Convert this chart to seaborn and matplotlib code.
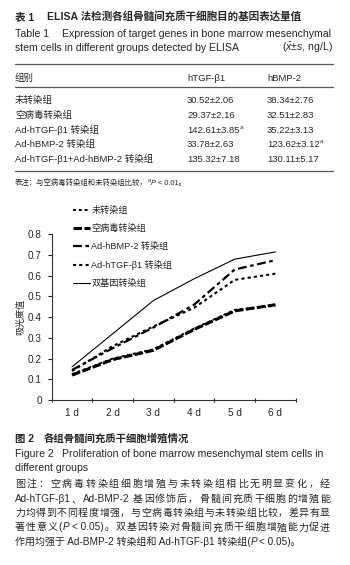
import matplotlib
matplotlib.use("Agg")
import matplotlib.pyplot as plt
from matplotlib.lines import Line2D
import numpy as np
import pandas as pd
import seaborn as sns

# table 1 data
table_groups = ["未转染组", "空病毒转染组", "Ad-hTGF-β1 转染组", "Ad-hBMP-2 转染组",
                "Ad-hTGF-β1+Ad-hBMP-2 转染组"]
tgf_vals = ["30.52±2.06", "29.37±2.16", "142.61±3.85", "33.78±2.63", "135.32±7.18"]
tgf_sig = [False, False, True, False, False]
bmp_vals = ["38.34±2.76", "32.51±2.83", "35.22±3.13", "123.62±3.12", "130.11±5.17"]
bmp_sig = [False, False, False, True, False]

# figure 2 data (absorbance)
days = ["1 d", "2 d", "3 d", "4 d", "5 d", "6 d"]
groups = ["未转染组", "空病毒转染组", "Ad-hBMP-2 转染组", "Ad-hTGF-β1 转染组", "双基因转染组"]
od_untransfected = [0.125, 0.20, 0.245, 0.345, 0.435, 0.455]
od_empty_virus = [0.12, 0.195, 0.24, 0.34, 0.43, 0.46]
od_bmp2 = [0.145, 0.25, 0.35, 0.46, 0.63, 0.675]
od_tgf = [0.14, 0.26, 0.355, 0.445, 0.58, 0.61]
od_dual = [0.16, 0.32, 0.48, 0.585, 0.68, 0.715]

sns.set_style("ticks")
plt.rcParams["font.family"] = ["Liberation Sans", "Noto Sans CJK SC"]
plt.rcParams["mathtext.fontset"] = "custom"
plt.rcParams["mathtext.rm"] = "Liberation Sans"
plt.rcParams["mathtext.it"] = "Liberation Sans:italic"

W, H = 350, 565
fig = plt.figure(figsize=(W / 100, H / 100), dpi=100)
renderer = fig.canvas.get_renderer()


def put(x, y, s, size, ha="left", **kw):
    # x, y in pixels from top-left, y = vertical centre of the line
    base = y + 0.37 * size * 100 / 72
    return fig.text(x / W, 1 - base / H, s, fontsize=size, ha=ha, va="baseline", **kw)


def width(t):
    return t.get_window_extent(renderer).width


def run(x, y, parts, size):
    for s, kw in parts:
        kw = dict(kw)
        sz = kw.pop("size", size)
        dy = kw.pop("dy", 0)
        gap = kw.pop("gap", 0)
        x += gap
        t = put(x, y + dy, s, sz, **kw)
        x += width(t)
    return x


def tokens(parts, size):
    out = []
    sp = 0.278 * size * 100 / 72
    for s, kw in parts:
        cur = ""
        for ch in s:
            if ord(ch) < 0x2000:
                cur += ch
            else:
                if cur:
                    out.append((cur, kw))
                    cur = ""
                out.append((ch, kw))
        if cur:
            out.append((cur, kw))
    res = []
    for s, kw in out:
        lead = len(s) - len(s.lstrip(" "))
        trail = len(s) - len(s.rstrip(" "))
        if s.strip():
            res.append([s.strip(), kw, lead * sp, trail * sp])
    return res


def justify(x0, x1, y, parts, size):
    toks = tokens(parts, size)
    objs = [put(0, y, s, size, **kw) for s, kw, a, b in toks]
    ws = [width(o) for o in objs]
    total = sum(ws) + sum(a + b for s, kw, a, b in toks)
    extra = (x1 - x0 - total) / max(len(toks) - 1, 1)
    x = x0
    for o, w, (s, kw, a, b) in zip(objs, ws, toks):
        x += a
        o.set_x(x / W)
        x += w + b + extra


bold = {"fontweight": "bold"}
ita = {"style": "italic"}

# ---- table 1 ----
put(15, 15.7, "表 1", 7.6, **bold)
put(46.7, 15.7, "ELISA 法检测各组骨髓间充质干细胞目的基因表达量值", 7.6, **bold)
put(15, 33, "Table 1", 7.6)
put(61.7, 33, "Expression of target genes in bone marrow mesenchymal", 7.6)
put(15, 47.3, "stem cells in different groups detected by ELISA", 7.6)
put(333, 47.3, r"($\bar{x}$±$s$, ng/L)", 7.6, ha="right")

for yy in [64.3, 87.3, 170.5]:
    fig.add_artist(Line2D([15 / W, 333 / W], [1 - yy / H, 1 - yy / H], color="#555555", lw=0.9))

put(15, 77.7, "组别", 6.8)
put(187, 77.7, "hTGF-β1", 6.8)
put(267, 77.7, "hBMP-2", 6.8)

row_y = [99.5, 114.3, 129.3, 143.7, 158.7]
for i, g in enumerate(table_groups):
    put(15, row_y[i], g, 6.8)
    for x0, vals, sig in [(187, tgf_vals, tgf_sig), (267, bmp_vals, bmp_sig)]:
        parts = [(vals[i], {})]
        if sig[i]:
            parts.append(("a", {"size": 4.5, "style": "italic", "dy": -3, "gap": 0.5}))
        run(x0, row_y[i], parts, 6.8)

run(15, 182.3, [("表注：与空病毒转染组和未转染组比较，", {}),
                ("a", {"size": 4, "style": "italic", "dy": -2.5}),
                ("P", {"style": "italic"}),
                (" < 0.01。", {})], 5.3)

# ---- figure 2 ----
ax = fig.add_axes([51.7 / W, 1 - 400 / H, (295.7 - 51.7) / W, (400 - 234.3) / H])

df = pd.DataFrame({
    "day": days * len(groups),
    "group": np.repeat(groups, len(days)),
    "od": od_untransfected + od_empty_virus + od_bmp2 + od_tgf + od_dual,
})
dashes = {groups[0]: (1.5, 1.5), groups[1]: (2.8, 0.8), groups[2]: (4, 1.6, 1.6, 1.6),
          groups[3]: (1.5, 1.5), groups[4]: ""}
sizes = {groups[0]: 1.4, groups[1]: 2.2, groups[2]: 1.6, groups[3]: 1.5, groups[4]: 0.8}
sns.lineplot(data=df, x="day", y="od", hue="group", style="group", size="group",
             hue_order=groups, style_order=groups, size_order=groups,
             palette={g: "black" for g in groups}, dashes=dashes, sizes=sizes,
             legend=False, ax=ax)

ax.set_xlim(-0.5, 5.5)
ax.set_ylim(0, 0.8)
ax.set_xticks(range(len(days)))
ax.set_xticklabels(days)
ax.set_xticks(np.arange(-0.5, len(days)), minor=True)
ax.tick_params(axis="x", which="major", length=0, pad=6, labelsize=7.2)
ax.tick_params(axis="x", which="minor", length=3, direction="inout", width=0.8)
ax.set_yticks(np.arange(0, 0.81, 0.1))
ax.set_yticklabels(["0"] + [f"{v:.1f}" for v in np.arange(0.1, 0.81, 0.1)])
ax.tick_params(axis="y", length=3, width=0.8, pad=4, labelsize=7.2)
ax.set_xlabel("")
ax.set_ylabel("吸光度值", fontsize=6.5)
ax.yaxis.set_label_coords(-0.109, 0.5)
sns.despine(ax=ax)
for sp in ["left", "bottom"]:
    ax.spines[sp].set_linewidth(0.8)
    ax.spines[sp].set_color("#333333")

handles = [Line2D([], [], color="black", lw=sizes[g], dashes=dashes[g] if dashes[g] else (None, None))
           for g in groups]
handles[4] = Line2D([], [], color="black", lw=sizes[groups[4]])
ax.legend(handles, groups, loc="upper left", bbox_to_anchor=(73 / W, 1 - 206 / H),
          bbox_transform=fig.transFigure, frameon=False, borderpad=0, borderaxespad=0,
          handlelength=1.85, handletextpad=0.15, labelspacing=0.98, fontsize=6.6)

# ---- captions ----
put(15, 438.3, "图 2", 7.5, **bold)
put(43.3, 438.3, "各组骨髓间充质干细胞增殖情况", 7.5, **bold)
put(15, 453.3, "Figure 2", 7.6)
put(61.7, 453.3, "Proliferation of bone marrow mesenchymal stem cells in", 7.6)
put(15, 466.7, "different groups", 7.6)

cap = [
    [("图注：空病毒转染组细胞增殖与未转染组相比无明显变化，经", {})],
    [("Ad-hTGF-β1、Ad-BMP-2 基因修饰后，骨髓间充质干细胞的增殖能", {})],
    [("力均得到不同程度增强，与空病毒转染组与未转染组比较，差异有显", {})],
    [("著性意义(", {}), ("P", ita), (" < 0.05)。双基因转染对骨髓间充质干细胞增殖能力促进", {})],
]
cap_y = [483.3, 498.3, 512.5, 526.7]
for parts, yy in zip(cap, cap_y):
    justify(15, 330, yy, parts, 7.2)
run(15, 541, [("作用均强于 Ad-BMP-2 转染组和 Ad-hTGF-β1 转染组(", {}), ("P", ita),
              ("< 0.05)。", {"gap": 2})], 7.2)

fig.savefig("out.png", dpi=100)
